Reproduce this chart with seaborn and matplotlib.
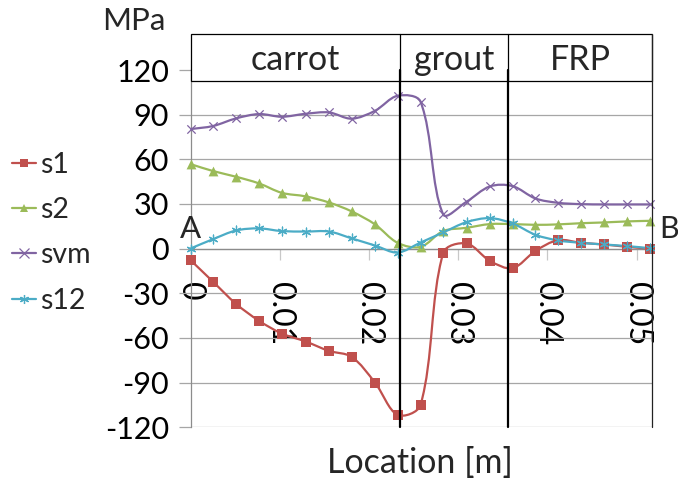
import numpy as np
import pandas as pd
import matplotlib
matplotlib.use("Agg")
import matplotlib.pyplot as plt
from matplotlib.path import Path
from matplotlib.patches import PathPatch, Rectangle
from matplotlib.lines import Line2D
import seaborn as sns

# Stress along the path A -> B through carrot, grout and FRP layers
location = [0.0, 0.00254, 0.00511, 0.00769, 0.01023, 0.01292, 0.01553,
            0.01807, 0.02068, 0.02322, 0.02579, 0.02833, 0.03094, 0.03356,
            0.0361, 0.03867, 0.04121, 0.04382, 0.04636, 0.04897, 0.05151]
s1 = [-7.7, -22.3, -37.1, -48.5, -57.0, -62.4, -68.7, -72.7, -90.0, -111.7,
      -105.0, -2.8, 3.5, -8.2, -13.1, -1.5, 5.7, 3.9, 2.8, 1.2, 0.0]
s2 = [56.8, 52.1, 48.3, 43.8, 37.5, 35.1, 31.0, 25.0, 16.3, 3.9, 1.2, 11.8,
      14.0, 16.5, 16.5, 16.0, 16.3, 17.1, 17.6, 18.3, 18.7]
svm = [80.3, 82.4, 87.5, 90.4, 88.6, 90.6, 91.5, 87.3, 92.6, 102.7, 98.7,
       23.0, 31.5, 41.8, 42.0, 33.7, 30.8, 29.9, 29.7, 29.7, 29.7]
s12 = [0.1, 6.4, 12.2, 13.6, 11.8, 11.5, 11.5, 6.9, 2.1, -2.6, 4.1, 10.9,
       17.8, 20.5, 16.9, 9.3, 5.5, 3.9, 2.8, 1.7, 0.3]

series_names = ["s1", "s2", "svm", "s12"]
series_values = [s1, s2, svm, s12]

regions = ["carrot", "grout", "FRP"]
region_edges = [0.0, 0.02351, 0.03563, 0.0517]

y_ticks = [-120, -90, -60, -30, 0, 30, 60, 90, 120]
x_ticks = [0.0, 0.01, 0.02, 0.03, 0.04, 0.05]
x_tick_labels = ["0", "0.01", "0.02", "0.03", "0.04", "0.05"]

df = pd.DataFrame({
    "location": np.tile(location, len(series_names)),
    "stress": np.concatenate(series_values),
    "series": np.repeat(series_names, len(location)),
})

colors = {"s1": "#C0504D", "s2": "#9BBB59", "svm": "#8064A2", "s12": "#4BACC6"}
markers = {"s1": "s", "s2": "^", "svm": "x", "s12": (6, 2, 0)}
msizes = {"s1": 42, "s2": 50, "svm": 36, "s12": 40}

sns.set_theme(style="white")
plt.rcParams["font.family"] = ["Lato", "DejaVu Sans"]
plt.rcParams["axes.unicode_minus"] = False

fig = plt.figure(figsize=(6.78, 4.82), dpi=100)
W, H = 678.0, 482.0
ax = fig.add_axes([190.5 / W, 1 - 427.3 / H, (651.7 - 190.5) / W, (427.3 - 70.0) / H])
ax.set_xlim(0.0, 0.0517)
ax.set_ylim(-120, 120)


def smooth_path(xs, ys):
    """Cubic Bezier path through the points; tangents are weighted by the
    on-screen length of the neighbouring segments to avoid overshoot."""
    to_disp = ax.transData
    pts = to_disp.transform(np.column_stack([xs, ys]))
    n = len(pts)
    seg = np.hypot(*np.diff(pts, axis=0).T)
    verts = [pts[0]]
    codes = [Path.MOVETO]
    for i in range(n - 1):
        p1, p2 = pts[i], pts[i + 1]
        if i > 0:
            w = seg[i] / (seg[i - 1] + seg[i])
            c1 = p1 + (p2 - pts[i - 1]) * w / 3.0
        else:
            c1 = p1 + (p2 - p1) / 3.0
        if i + 2 < n:
            w = seg[i] / (seg[i] + seg[i + 1])
            c2 = p2 - (pts[i + 2] - p1) * w / 3.0
        else:
            c2 = p2 - (p2 - p1) / 3.0
        verts += [c1, c2, p2]
        codes += [Path.CURVE4] * 3
    verts = to_disp.inverted().transform(np.array(verts))
    return Path(verts, codes)


for name in series_names:
    sub = df[df["series"] == name]
    ax.add_patch(PathPatch(smooth_path(sub["location"].values, sub["stress"].values),
                           facecolor="none", edgecolor=colors[name], lw=1.6,
                           zorder=6, clip_on=False))
    filled = name in ("s1", "s2")
    kw = dict(edgecolor=colors[name], linewidth=0) if filled else dict(linewidth=0.9)
    sns.scatterplot(data=sub, x="location", y="stress", ax=ax, color=colors[name],
                    marker=markers[name], s=msizes[name], zorder=7, legend=False,
                    clip_on=False, **kw)

# axes, grid and ticks
grid_c = "#A6A6A6"
ax.set_yticks(y_ticks)
ax.set_xticks(x_ticks)
ax.set_xticklabels(x_tick_labels)
ax.yaxis.grid(True, color=grid_c, lw=0.9)
ax.xaxis.grid(False)
for side in ("top", "right"):
    ax.spines[side].set_visible(False)
ax.spines["left"].set_color("#8C8C8C")
ax.spines["left"].set_linewidth(0.9)
ax.spines["bottom"].set_position(("data", 0))
ax.spines["bottom"].set_color("#8C8C8C")
ax.spines["bottom"].set_linewidth(0.9)
ax.tick_params(axis="y", which="major", direction="out", length=8.5, width=0.9,
               color=grid_c, labelsize=22, pad=7, left=True, labelcolor="black")
ax.tick_params(axis="x", which="major", direction="out", length=8, width=0.9,
               color="#C8C8C8", labelsize=23, pad=16, bottom=True,
               labelrotation=-90, labelcolor="black")
ax.set_xlabel("")
ax.set_ylabel("")

# region header and separators
ytop, ybot = 144.2, 112.6
ax.add_patch(Rectangle((region_edges[0], ybot), region_edges[-1] - region_edges[0],
                       ytop - ybot, facecolor="white", edgecolor="black", lw=0.9,
                       zorder=8, clip_on=False))
for xe in region_edges[1:-1]:
    ax.plot([xe, xe], [ybot, ytop], color="black", lw=0.9, zorder=9, clip_on=False)
    ax.plot([xe, xe], [-120, 120], color="black", lw=1.6, zorder=10, clip_on=False)
ax.plot([region_edges[-1]] * 2, [-120, ytop], color="#222222", lw=0.9, zorder=10,
        clip_on=False)
for name, a, b in zip(regions, region_edges[:-1], region_edges[1:]):
    ax.text((a + b) / 2, 120.2, name, ha="center", va="baseline", fontsize=24.5,
            zorder=11, clip_on=False)

# path end labels
ax.text(0.0, 13.0, "A", ha="center", va="center", fontsize=22.5, zorder=11, clip_on=False)
ax.text(0.0526, 13.0, "B", ha="left", va="center", fontsize=22, zorder=11, clip_on=False)

fig.text(134 / W, 1 - 21 / H, "MPa", ha="center", va="center", fontsize=22.5)
fig.text(420 / W, 1 - 463 / H, "Location [m]", ha="center", va="center", fontsize=24.5)

handles = [Line2D([0], [0], color=colors[n], lw=1.6, marker=markers[n],
                  markersize=6 if n in ("s1", "s2") else 6.5,
                  markeredgewidth=0 if n in ("s1", "s2") else 0.9,
                  markeredgecolor=colors[n])
           for n in series_names]
fig.legend(handles, series_names, loc="upper left", bbox_to_anchor=(6 / W, 1 - 146 / H),
           frameon=False, fontsize=20.5, handlelength=0.85, handletextpad=0.15,
           labelspacing=0.68, borderaxespad=0, borderpad=0.2)

fig.savefig("out.png", dpi=100, facecolor="white")
